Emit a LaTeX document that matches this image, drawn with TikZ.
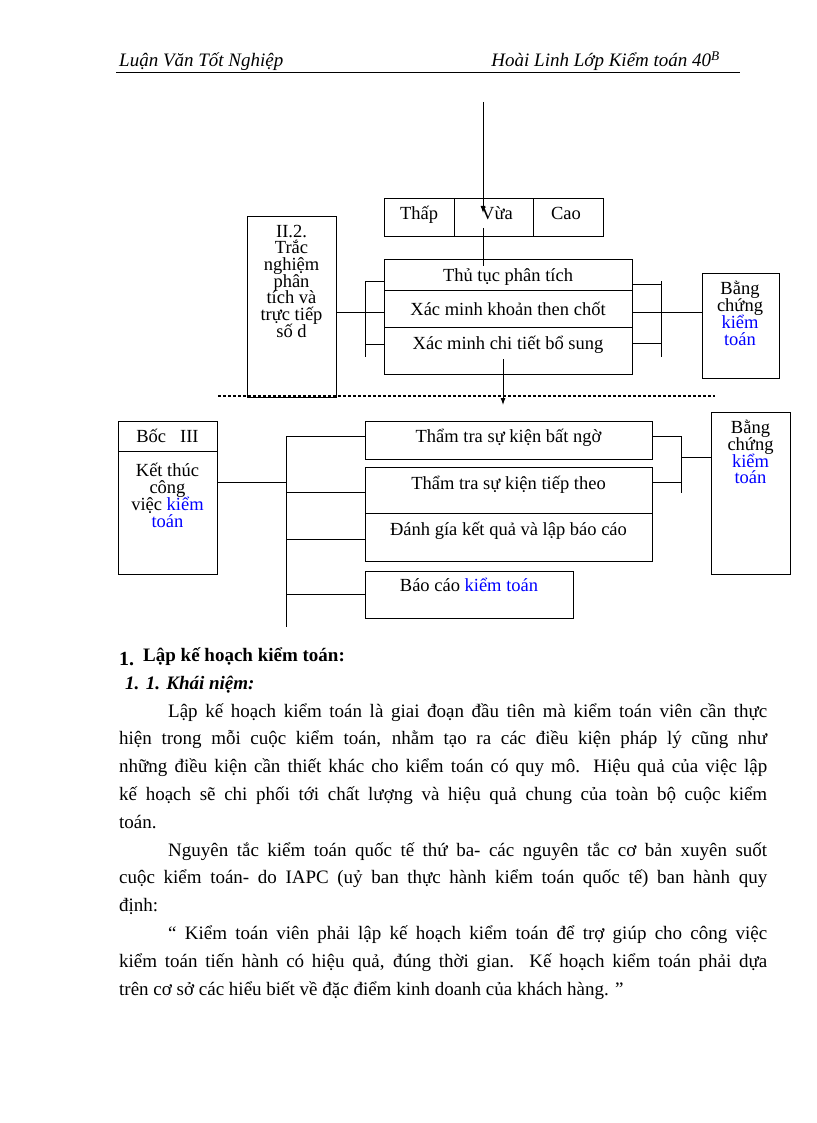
\documentclass[tikz,border=0pt]{standalone}
\usepackage{fontspec}
\setmainfont{Liberation Serif}
\usetikzlibrary{arrows.meta,calc}
\begin{document}
\begin{tikzpicture}[x=1pt,y=-1pt,
  bx/.style={draw, line width=0.9pt, inner sep=0pt, anchor=north west},
  dt/.style={inner sep=0pt, anchor=base, font=\fontsize{18.5}{16.7}\selectfont},
  bt/.style={inner sep=0pt, anchor=base west, font=\fontsize{19}{27.8}\selectfont},
  hd/.style={inner sep=0pt, font=\fontsize{19}{22}\selectfont\itshape},
  ln/.style={line width=0.9pt},
  arr/.style={line width=0.9pt, -{Latex[length=7pt,width=5pt]}}
]
\path[fill=white] (0,0) rectangle (816,1123);
\useasboundingbox (0,0) rectangle (816,1123);

% header
\node[hd, anchor=base west] (hl) at (119,67) {Luận Văn Tốt Nghiệp};
\node[hd, anchor=base east] (hr) at (720,67) {Hoài Linh Lớp Kiểm toán 40\textsuperscript{B}};
\coordinate (ulA) at (116,72); \coordinate (ulB) at (740,72);
\draw[line width=0.8pt] (ulA) -- (ulB);

% ---------- top diagram ----------
\node[bx, minimum width=70pt, minimum height=38pt] (thap) at (384,198) {};
\node[bx, minimum width=79pt, minimum height=38pt] (vua) at (454,198) {};
\node[bx, minimum width=70pt, minimum height=38pt] (cao) at (533,198) {};
\node[dt] (tThap) at (419,220) {Thấp};
\node[dt] (tVua) at (497,220) {Vừa};
\node[dt] (tCao) at (566,220) {Cao};

\coordinate (inTop) at (483,102); \coordinate (inTip) at (483,213);
\draw[arr] (inTop) -- (inTip);
\coordinate (v2) at (483,228); \coordinate (v3) at (483,266);
\draw[ln] (v2) -- (v3);

\node[bx, minimum width=89pt, minimum height=181pt] (ii) at (247,216) {};
\foreach \t/\yy [count=\i] in {II.2./237, Trắc/253, nghiệm/270, phân/287, tích và/303, trực tiếp/320, số d/337}
  \node[dt] (iiL\i) at (291.5,\yy) {\t};

\node[bx, minimum width=248pt, minimum height=31pt] (r1) at (384,259) {};
\node[bx, minimum width=248pt, minimum height=37pt] (r2) at (384,290) {};
\node[bx, minimum width=248pt, minimum height=47pt] (r3) at (384,327) {};
\node[dt] (tr1) at (508,281) {Thủ tục phân tích};
\node[dt] (tr2) at (508,315) {Xác minh khoản then chốt};
\node[dt] (tr3) at (508,349) {Xác minh chi tiết bổ sung};

\coordinate (lb1) at (365,281); \coordinate (lb2) at (365,312);
\coordinate (lb3) at (365,344); \coordinate (lb4) at (365,357);
\draw[ln] (lb1) -- (lb4);
\draw[ln] (lb1) -- (lb1 -| r1.west);
\draw[ln] (ii.east |- lb2) -- (lb2 -| r2.west);
\draw[ln] (lb3) -- (lb3 -| r3.west);

\node[bx, minimum width=77pt, minimum height=105pt] (bc1) at (702,273) {};
\node[dt] (bc1a) at (740,294) {Bằng};
\node[dt] (bc1b) at (740,311) {chứng};
\node[dt] (bc1c) at (740,328) {\textcolor{blue}{kiểm}};
\node[dt] (bc1d) at (740,345) {\textcolor{blue}{toán}};

\coordinate (rbT) at (661,281); \coordinate (rbB) at (661,357);
\coordinate (rt1) at (661,284); \coordinate (rt2) at (661,312); \coordinate (rt3) at (661,343);
\draw[ln] (rbT) -- (rbB);
\draw[ln] (r1.east |- rt1) -- (rt1);
\draw[ln] (r2.east |- rt2) -- (bc1.west |- rt2);
\draw[ln] (r3.east |- rt3) -- (rt3);

\coordinate (d1) at (503,359); \coordinate (d2) at (503,405);
\draw[arr] (d1) -- (d2);
\coordinate (dsA) at (218,396); \coordinate (dsB) at (715,396);
\draw[line width=1.2pt, dash pattern=on 3pt off 2pt] (dsA) -- (dsB);

% ---------- bottom diagram ----------
\node[bx, minimum width=99pt, minimum height=30pt] (bh) at (118,421) {};
\node[bx, minimum width=99pt, minimum height=123pt] (bb) at (118,451) {};
\node[dt] (tbh) at (167.5,442) {Bốc\hspace{14pt}III};
\node[dt] (tbb1) at (167.5,476) {Kết thúc};
\node[dt] (tbb2) at (167.5,493) {công};
\node[dt] (tbb3) at (167.5,510) {việc \textcolor{blue}{kiểm}};
\node[dt] (tbb4) at (167.5,527) {\textcolor{blue}{toán}};

\node[bx, minimum width=287pt, minimum height=38pt] (b1) at (365,421) {};
\node[bx, minimum width=287pt, minimum height=46pt] (b2) at (365,467) {};
\node[bx, minimum width=287pt, minimum height=48pt] (b3) at (365,513) {};
\node[bx, minimum width=208pt, minimum height=47pt] (b4) at (365,571) {};
\node[dt] (tb1) at (508.5,442) {Thẩm tra sự kiện bất ngờ};
\node[dt] (tb2) at (508.5,489) {Thẩm tra sự kiện tiếp theo};
\node[dt] (tb3) at (508.5,535) {Đánh gía kết quả và lập báo cáo};
\node[dt] (tb4) at (469,591) {Báo cáo \textcolor{blue}{kiểm toán}};

\coordinate (tT) at (286,436); \coordinate (tB) at (286,627);
\coordinate (tj) at (286,482);
\coordinate (t2) at (286,492); \coordinate (t3) at (286,539); \coordinate (t4) at (286,594);
\draw[ln] (tT) -- (tB);
\draw[ln] (bb.east |- tj) -- (tj);
\draw[ln] (tT) -- (tT -| b1.west);
\draw[ln] (t2) -- (t2 -| b2.west);
\draw[ln] (t3) -- (t3 -| b3.west);
\draw[ln] (t4) -- (t4 -| b4.west);

\node[bx, minimum width=79pt, minimum height=162pt] (bc2) at (711,412) {};
\node[dt] (bc2a) at (750.5,433) {Bằng};
\node[dt] (bc2b) at (750.5,450) {chứng};
\node[dt] (bc2c) at (750.5,467) {\textcolor{blue}{kiểm}};
\node[dt] (bc2d) at (750.5,483) {\textcolor{blue}{toán}};

\coordinate (s1) at (681,436); \coordinate (s2) at (681,482);
\coordinate (sB) at (681,493); \coordinate (sj) at (681,457);
\draw[ln] (s1) -- (sB);
\draw[ln] (b1.east |- s1) -- (s1);
\draw[ln] (b2.east |- s2) -- (s2);
\draw[ln] (sj) -- (sj -| bc2.west);

% ---------- body text ----------
\node[inner sep=0pt, anchor=base west, font=\fontsize{20}{24}\selectfont\bfseries] (h1n) at (119,665) {1.};
\node[inner sep=0pt, anchor=base west, font=\fontsize{19}{24}\selectfont\bfseries] (h1) at (143,661) {Lập kế hoạch kiểm toán:};
\node[inner sep=0pt, anchor=base west, font=\fontsize{19}{24}\selectfont\bfseries\itshape] (h2) at (125,689) {1. 1. Khái niệm:};

\node[bt] (l1) at (168,717) {\makebox[599pt][s]{Lập kế hoạch kiểm toán là giai đoạn đầu tiên mà kiểm toán viên cần thực}};
\node[bt] (l2) at (119,744.8) {\makebox[648pt][s]{hiện trong mỗi cuộc kiểm toán, nhằm tạo ra các điều kiện pháp lý cũng như}};
\node[bt] (l3) at (119,772.6) {\makebox[648pt][s]{những điều kiện cần thiết khác cho kiểm toán có quy mô. Hiệu quả của việc lập}};
\node[bt] (l4) at (119,800.4) {\makebox[648pt][s]{kế hoạch sẽ chi phối tới chất lượng và hiệu quả chung của toàn bộ cuộc kiểm}};
\node[bt] (l5) at (119,828.2) {toán.};
\node[bt] (l6) at (168,856) {\makebox[599pt][s]{Nguyên tắc kiểm toán quốc tế thứ ba- các nguyên tắc cơ bản xuyên suốt}};
\node[bt] (l7) at (119,883.8) {\makebox[648pt][s]{cuộc kiểm toán- do IAPC (uỷ ban thực hành kiểm toán quốc tế) ban hành quy}};
\node[bt] (l8) at (119,911.6) {định:};
\node[bt] (l9) at (168,939.4) {\makebox[599pt][s]{“ Kiểm toán viên phải lập kế hoạch kiểm toán để trợ giúp cho công việc}};
\node[bt] (l10) at (119,967.2) {\makebox[648pt][s]{kiểm toán tiến hành có hiệu quả, đúng thời gian. Kế hoạch kiểm toán phải dựa}};
\node[bt] (l11) at (119,995) {trên cơ sở các hiểu biết về đặc điểm kinh doanh của khách hàng. ”};
\end{tikzpicture}
\end{document}
